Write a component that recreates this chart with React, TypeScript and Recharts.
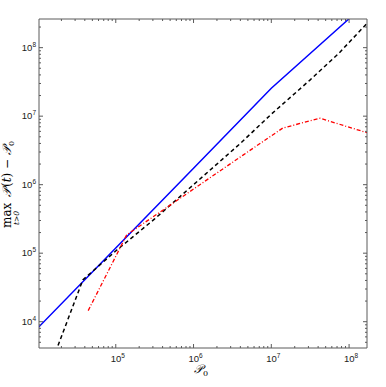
import React from "react"
import { LineChart, Line, XAxis, YAxis } from "recharts"

// P0 (x) and max P(t) - P0 (y) for each curve
const blueP0 = [1.0e4, 1.0e5, 1.0e6, 1.0e7, 1.0e8, 2.0e8]
const blueVal = [8.15e3, 1.19e5, 1.74e6, 2.55e7, 2.64e8, 5.3e8]

const blackP0 = [1.35e4, 3.77e4, 1.04e5, 3.16e5, 1.0e6, 3.98e6, 1.0e7, 3.16e7, 7.4e7, 2.0e8]
const blackVal = [1.86e3, 4.07e4, 1.12e5, 3.16e5, 1.0e6, 3.98e6, 1.07e7, 3.39e7, 8.3e7, 2.75e8]

const redP0 = [4.42e4, 1.38e5, 4.37e5, 1.38e6, 4.37e6, 1.41e7, 4.23e7, 1.7e8]
const redVal = [1.45e4, 1.85e5, 4.52e5, 1.11e6, 2.72e6, 6.73e6, 9.31e6, 5.74e6]

const xDomain: [number, number] = [1.03e4, 1.7e8]
const yDomain: [number, number] = [4.13e3, 2.62e8]

const xMajor = [1e5, 1e6, 1e7, 1e8]
const yMajor = [1e4, 1e5, 1e6, 1e7, 1e8]
const decades = [1e3, 1e4, 1e5, 1e6, 1e7, 1e8]
const mantissas = [1, 2, 3, 4, 5, 6, 7, 8, 9]

function logTicks(domain: [number, number]) {
  const out: number[] = []
  decades.forEach((d) =>
    mantissas.forEach((m) => {
      const v = d * m
      if (v >= domain[0] && v <= domain[1]) out.push(v)
    })
  )
  return out
}

const xTicks = logTicks(xDomain)
const yTicks = logTicks(yDomain)

const toRows = (xs: number[], ys: number[]) => xs.map((p, i) => ({ p0: p, v: ys[i] }))
const blueData = toRows(blueP0, blueVal)
const blackData = toRows(blackP0, blackVal)
const redData = toRows(redP0, redVal)

const isMajor = (v: number, majors: number[]) => majors.some((m) => Math.abs(v / m - 1) < 1e-6)
const exponent = (v: number) => Math.round(Math.log10(v))

const AXIS = "#5a5a5a"
const TICK_FONT = "'Liberation Sans', Arial, sans-serif"
const MATH_FONT = "'DejaVu Serif', 'Liberation Serif', serif"

function PowerLabel({ x, y, v, anchor }: { x: number; y: number; v: number; anchor: "middle" | "end" }) {
  return (
    <text x={x} y={y} textAnchor={anchor} fontFamily={TICK_FONT} fontSize={9.5} fill="#222">
      10
      <tspan dy={-4} fontSize={6.5}>
        {exponent(v)}
      </tspan>
    </text>
  )
}

function makeTick(side: "bottom" | "top" | "left" | "right", majors: number[], labels: boolean) {
  return (props: any) => {
    const { x, y, payload } = props
    const major = isMajor(payload.value, majors)
    const len = major ? 4 : 2
    let line
    if (side === "bottom") line = <line x1={x} y1={y} x2={x} y2={y - len} stroke={AXIS} />
    else if (side === "top") line = <line x1={x} y1={y} x2={x} y2={y + len} stroke={AXIS} />
    else if (side === "left") line = <line x1={x} y1={y} x2={x + len} y2={y} stroke={AXIS} />
    else line = <line x1={x} y1={y} x2={x - len} y2={y} stroke={AXIS} />
    return (
      <g>
        {line}
        {labels && major && side === "bottom" && <PowerLabel x={x + 2} y={y + 14} v={payload.value} anchor="middle" />}
        {labels && major && side === "left" && <PowerLabel x={x - 3} y={y + 3} v={payload.value} anchor="end" />}
      </g>
    )
  }
}

function YLabel() {
  return (
    <g transform="translate(11, 228) rotate(-90)" fontFamily={MATH_FONT} fill="#000">
      <text x={0} y={0} fontSize={12}>max</text>
      <text x={3} y={8} fontSize={7.5} fontStyle="italic">t&gt;0</text>
      <text x={31} y={0} fontSize={12}>
        <tspan fontStyle="italic">𝒫</tspan>
        <tspan dx={1}>(</tspan>
        <tspan fontStyle="italic">t</tspan>
        <tspan>) − </tspan>
        <tspan fontStyle="italic">𝒫</tspan>
        <tspan dy={3} fontSize={8}>0</tspan>
      </text>
    </g>
  )
}

function XLabel() {
  return (
    <text x={194} y={373} fontFamily={MATH_FONT} fontSize={12} fill="#000">
      <tspan fontStyle="italic">𝒫</tspan>
      <tspan dy={3} fontSize={8}>0</tspan>
    </text>
  )
}

export default function App() {
  const axisCommon = {
    type: "number" as const,
    scale: "log" as const,
    allowDataOverflow: true,
    interval: 0 as const,
    tickSize: 0,
    tickMargin: 0,
    tickLine: false,
    axisLine: { stroke: AXIS },
  }
  return (
    <div style={{ position: "absolute", left: 0, top: 0, width: 386, height: 387, background: "#fff" }}>
      <LineChart width={386} height={387} margin={{ top: 9, right: 9, bottom: 9, left: 9 }}>
        <XAxis {...axisCommon} xAxisId="b" dataKey="p0" domain={xDomain} ticks={xTicks} height={30} tick={makeTick("bottom", xMajor, true)} />
        <XAxis {...axisCommon} xAxisId="t" orientation="top" dataKey="p0" domain={xDomain} ticks={xTicks} height={10} tick={makeTick("top", xMajor, false)} />
        <YAxis {...axisCommon} yAxisId="l" dataKey="v" domain={yDomain} ticks={yTicks} width={30} tick={makeTick("left", yMajor, true)} />
        <YAxis {...axisCommon} yAxisId="r" orientation="right" dataKey="v" domain={yDomain} ticks={yTicks} width={10} tick={makeTick("right", yMajor, false)} />
        <Line xAxisId="b" yAxisId="l" data={blueData} dataKey="v" stroke="#0000ff" strokeWidth={1.5} dot={false} isAnimationActive={false} />
        <Line xAxisId="b" yAxisId="l" data={blackData} dataKey="v" stroke="#000000" strokeWidth={1.5} strokeDasharray="4 3" dot={false} isAnimationActive={false} />
        <Line xAxisId="b" yAxisId="l" data={redData} dataKey="v" stroke="#ff0000" strokeWidth={1.3} strokeDasharray="4 2 1 2" dot={false} isAnimationActive={false} />
        <Line xAxisId="t" yAxisId="r" data={[]} dataKey="v" stroke="none" dot={false} isAnimationActive={false} />
      </LineChart>
      <svg width={386} height={387} style={{ position: "absolute", left: 0, top: 0, pointerEvents: "none" }}>
        <YLabel />
        <XLabel />
      </svg>
    </div>
  )
}
